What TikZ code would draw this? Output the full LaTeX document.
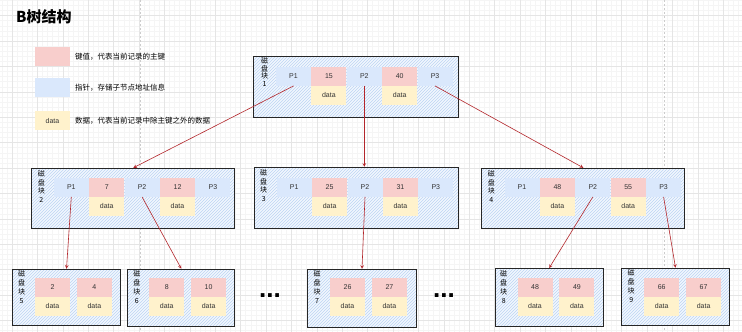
\documentclass[tikz,border=0pt]{standalone}
\usepackage{fontspec}
\setmainfont{Liberation Sans}
\newfontfamily\cjk{Noto Sans CJK SC}
\usetikzlibrary{positioning,patterns}
\definecolor{keyred}{HTML}{F8CECC}
\definecolor{ptrblue}{HTML}{DAE8FC}
\definecolor{datyellow}{HTML}{FFF2CC}
\definecolor{hatchbg}{HTML}{F2F7FE}
\definecolor{hatchline}{HTML}{BDD4F3}
\definecolor{linkred}{HTML}{B3262B}
\definecolor{txtgray}{HTML}{333333}
\tikzset{
    gridminor/.style={draw=black!4, line width=0.4pt},
    gridmajor/.style={draw=black!10, line width=0.5pt},
    pageline/.style={draw=black!20, line width=0.6pt, dash pattern=on 2pt off 2pt},
    blk/.style={draw=black!85, line width=1pt, preaction={fill=hatchbg}, pattern=north east lines, pattern color=hatchline, inner sep=0pt},
    cell/.style={minimum width=35pt, minimum height=18.5pt, inner sep=0pt, text=txtgray, font=\fontsize{7}{8}\selectfont},
    ptr/.style={cell, fill=ptrblue},
    key/.style={cell, fill=keyred},
    dat/.style={cell, fill=datyellow},
    lbl/.style={align=center, anchor=north, inner sep=0pt, font=\cjk\fontsize{7}{#1}\selectfont},
    legendtxt/.style={anchor=west, inner sep=0pt, font=\cjk\fontsize{7.5}{8}\selectfont},
    lnk/.style={->, draw=linkred, line width=0.6pt}
}
\begin{document}
\begin{tikzpicture}[x=1pt,y=-1pt,>=stealth]
    \useasboundingbox[fill=white] (0,0) rectangle (742,332);
    \foreach \i in {0,...,146} \draw[gridminor] ({1.84+\i*5.08},0) -- ++(0,332);
    \foreach \i in {0,...,65} \draw[gridminor] (0,{0.36+\i*5.08}) -- ++(742,0);
    \foreach \i in {0,...,29} \draw[gridmajor] ({12+\i*25.4},0) -- ++(0,332);
    \foreach \i in {0,...,12} \draw[gridmajor] (0,{15.6+\i*25.4}) -- ++(742,0);
    \draw[pageline] (140,0) -- (140,332);
    \draw[pageline] (664,0) -- (664,332);

    \node[anchor=west, inner sep=0pt, font=\cjk\bfseries\fontsize{15}{16}\selectfont] (title) at (16,17) {B树结构};

    \node[key, minimum height=19pt] (lgkey) at (52.5,56.8) {};
    \node[legendtxt] (lgkeytxt) at (75,57) {键值，代表当前记录的主键};
    \node[ptr, minimum height=19pt] (lgptr) at (52.5,87.5) {};
    \node[legendtxt] (lgptrtxt) at (75,88) {指针，存储子节点地址信息};
    \node[dat, minimum height=19pt] (lgdat) at (52.5,120.5) {data};
    \node[legendtxt] (lgdattxt) at (75,120.5) {数据，代表当前记录中除主键之外的数据};

    \node[blk, minimum width=205pt, minimum height=61pt] (b1) at (355.5,86.5) {};
    \node[lbl=7.6] (l1) at ([shift={(12,2)}]b1.north west) {磁\\盘\\块\\1};
    \node[ptr] (b1p1) at (293.5,76.5) {P1};
    \node[key, right=0pt of b1p1] (b1k1) {15};
    \node[dat, below=0pt of b1k1] (b1d1) {data};
    \node[ptr, right=0pt of b1k1] (b1p2) {P2};
    \node[key, right=0pt of b1p2] (b1k2) {40};
    \node[dat, below=0pt of b1k2] (b1d2) {data};
    \node[ptr, right=0pt of b1k2] (b1p3) {P3};

    \node[blk, minimum width=203pt, minimum height=60pt] (b2) at (133.3,198.3) {};
    \node[lbl=8.5] (l2) at ([shift={(10,3)}]b2.north west) {磁\\盘\\块\\2};
    \node[ptr] (b2p1) at (71.3,187.5) {P1};
    \node[key, right=0pt of b2p1] (b2k1) {7};
    \node[dat, below=0pt of b2k1] (b2d1) {data};
    \node[ptr, right=0pt of b2k1] (b2p2) {P2};
    \node[key, right=0pt of b2p2] (b2k2) {12};
    \node[dat, below=0pt of b2k2] (b2d2) {data};
    \node[ptr, right=0pt of b2k2] (b2p3) {P3};

    \node[blk, minimum width=204pt, minimum height=61pt] (b3) at (356.2,197.8) {};
    \node[lbl=8.5] (l3) at ([shift={(10,3)}]b3.north west) {磁\\盘\\块\\3};
    \node[ptr] (b3p1) at (294.2,187.5) {P1};
    \node[key, right=0pt of b3p1] (b3k1) {25};
    \node[dat, below=0pt of b3k1] (b3d1) {data};
    \node[ptr, right=0pt of b3k1] (b3p2) {P2};
    \node[key, right=0pt of b3p2] (b3k2) {31};
    \node[dat, below=0pt of b3k2] (b3d2) {data};
    \node[ptr, right=0pt of b3k2] (b3p3) {P3};

    \node[blk, minimum width=203pt, minimum height=60pt] (b4) at (583.3,198.3) {};
    \node[lbl=8.5] (l4) at ([shift={(10,3)}]b4.north west) {磁\\盘\\块\\4};
    \node[ptr] (b4p1) at (522,187.5) {P1};
    \node[key, right=0pt of b4p1] (b4k1) {48};
    \node[dat, below=0pt of b4k1] (b4d1) {data};
    \node[ptr, right=0pt of b4k1] (b4p2) {P2};
    \node[key, right=0pt of b4p2] (b4k2) {55};
    \node[dat, below=0pt of b4k2] (b4d2) {data};
    \node[ptr, right=0pt of b4k2] (b4p3) {P3};

    \node[blk, minimum width=108pt, minimum height=56.5pt] (b5) at (66.5,297.5) {};
    \node[lbl=9] (l5) at ([shift={(9.5,2)}]b5.north west) {磁\\盘\\块\\5};
    \node[key] (b5k1) at (52.5,287.5) {2};
    \node[dat, below=0pt of b5k1] (b5d1) {data};
    \node[key, right=6.5pt of b5k1] (b5k2) {4};
    \node[dat, below=0pt of b5k2] (b5d2) {data};

    \node[blk, minimum width=107pt, minimum height=57pt] (b6) at (181.3,297.7) {};
    \node[lbl=9] (l6) at ([shift={(9.5,2)}]b6.north west) {磁\\盘\\块\\6};
    \node[key] (b6k1) at (166.7,287.5) {8};
    \node[dat, below=0pt of b6k1] (b6d1) {data};
    \node[key, right=6.5pt of b6k1] (b6k2) {10};
    \node[dat, below=0pt of b6k2] (b6d2) {data};

    \node[blk, minimum width=109pt, minimum height=58pt] (b7) at (362,298.3) {};
    \node[lbl=9] (l7) at ([shift={(10,2)}]b7.north west) {磁\\盘\\块\\7};
    \node[key] (b7k1) at (347.5,287.5) {26};
    \node[dat, below=0pt of b7k1] (b7d1) {data};
    \node[key, right=6.5pt of b7k1] (b7k2) {27};
    \node[dat, below=0pt of b7k2] (b7d2) {data};

    \node[blk, minimum width=108pt, minimum height=58pt] (b8) at (549.2,297.5) {};
    \node[lbl=9] (l8) at ([shift={(9,2)}]b8.north west) {磁\\盘\\块\\8};
    \node[key] (b8k1) at (535,287.5) {48};
    \node[dat, below=0pt of b8k1] (b8d1) {data};
    \node[key, right=6.5pt of b8k1] (b8k2) {49};
    \node[dat, below=0pt of b8k2] (b8d2) {data};

    \node[blk, minimum width=107.6pt, minimum height=57.5pt] (b9) at (675.5,297) {};
    \node[lbl=9] (l9) at ([shift={(10,2)}]b9.north west) {磁\\盘\\块\\9};
    \node[key] (b9k1) at (661.7,287.5) {66};
    \node[dat, below=0pt of b9k1] (b9d1) {data};
    \node[key, right=6.5pt of b9k1] (b9k2) {67};
    \node[dat, below=0pt of b9k2] (b9d2) {data};

    \node[inner sep=0pt, font=\bfseries\fontsize{26}{26}\selectfont] (dots1) at (270,296) {...};
    \node[inner sep=0pt, font=\bfseries\fontsize{26}{26}\selectfont] (dots2) at (444,296) {...};

    \draw[lnk] (b1p1.south) -- (b2.north);
    \draw[lnk] (b1p2.south) -- (b1p2.south |- b3.north);
    \draw[lnk] (b1p3.south) -- (b4.north);
    \draw[lnk] (b2p1.south) -- (b5.north);
    \draw[lnk] (b2p2.south) -- (b6.north);
    \draw[lnk] (b3p2.south) -- (b7.north);
    \draw[lnk] (b4p2.south) -- (b8.north);
    \draw[lnk] (b4p3.south) -- (b9.north);
\end{tikzpicture}
\end{document}
